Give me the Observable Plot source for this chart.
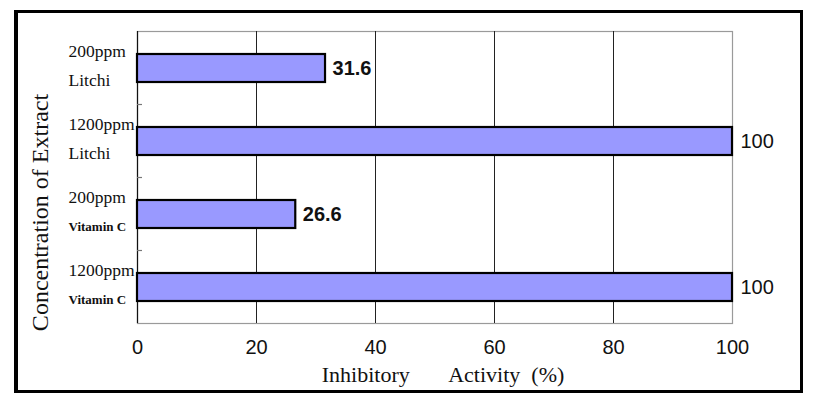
<!DOCTYPE html>
<html>
<head>
<meta charset="utf-8">
<script src="https://cdn.jsdelivr.net/npm/d3@7"></script>
<script src="https://cdn.jsdelivr.net/npm/@observablehq/plot@0.6"></script>
<style>
  html, body { margin: 0; padding: 0; background: #fff; }
  #wrap { position: relative; width: 819px; height: 412px; }
  #border { position: absolute; left: 14px; top: 10px; width: 782px; height: 377px; border: 3px solid #000; border-left-width: 4px; pointer-events: none; }
  svg { display: block; }
</style>
</head>
<body>
<div id="wrap"><div id="border"></div></div>
<script>
const concentrations = ["200ppm", "1200ppm", "200ppm", "1200ppm"];
const extracts = ["Litchi", "Litchi", "Vitamin C", "Vitamin C"];
const activity = [31.6, 100, 26.6, 100];
const valueLabels = ["31.6", "100", "26.6", "100"];
const xTicks = [0, 20, 40, 60, 80, 100];
const gridValues = [20, 40, 60, 80];
const xTitle = "Inhibitory\u00a0\u00a0\u00a0\u00a0\u00a0\u00a0\u00a0Activity\u00a0\u00a0(%)";
const yTitle = "Concentration of Extract";

const sans = "Liberation Sans, Arial, sans-serif";

const rows = concentrations.map((c, i) => ({
  key: c + " " + extracts[i],
  conc: c,
  extract: extracts[i],
  value: activity[i],
  label: valueLabels[i]
}));
const domain = rows.map(d => d.key);

const plot = Plot.plot({
  width: 819,
  height: 412,
  marginLeft: 137,
  marginRight: 87,
  marginTop: 31,
  marginBottom: 89,
  style: { background: "transparent", overflow: "visible" },
  x: { domain: [0, 100], ticks: xTicks },
  y: { domain, paddingInner: 0.62, paddingOuter: 0.31 },
  marks: [
    Plot.frame({ stroke: "#9a9a9a", strokeWidth: 1.2 }),
    Plot.ruleX(gridValues, { stroke: "#222", strokeWidth: 1 }),
    Plot.ruleX([0], { stroke: "#111", strokeWidth: 1.2 }),
    Plot.barX(rows, { x: "value", y: "key", fill: "#9999ff", stroke: "#000", strokeWidth: 2.2 }),
    Plot.text(rows.filter(d => d.value < 100), { x: "value", y: "key", text: "label", textAnchor: "start", dx: 7,
      fontFamily: sans, fontWeight: "bold", fontSize: 20, letterSpacing: 1, fill: "#111" }),
    Plot.text(rows.filter(d => d.value >= 100), { x: "value", y: "key", text: "label", textAnchor: "start", dx: 8,
      fontFamily: sans, fontSize: 20, fill: "#111" }),
    Plot.text(rows, { x: 0, y: "key", text: "conc", textAnchor: "start", dx: -69, dy: -17.5,
      fontFamily: "Liberation Serif", fontSize: 17.5, fill: "#111" }),
    Plot.text(rows.filter(d => d.extract === "Litchi"), { x: 0, y: "key", text: "extract", textAnchor: "start", dx: -69, dy: 12,
      fontFamily: "Liberation Serif", fontSize: 17.5, fill: "#111" }),
    Plot.text(rows.filter(d => d.extract !== "Litchi"), { x: 0, y: "key", text: "extract", textAnchor: "start", dx: -69, dy: 12,
      fontFamily: "Liberation Serif", fontWeight: "bold", fontSize: 13, fill: "#111" }),
    Plot.axisX({ ticks: xTicks, tickSize: 0, tickPadding: 16, label: null,
      fontFamily: sans, fontSize: 20, color: "#111" }),
    Plot.axisY({ ticks: [], label: null }),
    Plot.text([xTitle], { frameAnchor: "bottom", dx: 8, dy: 58,
      fontFamily: "Liberation Serif", fontSize: 22, letterSpacing: 0.6, fill: "#111" }),
    Plot.text([yTitle], { frameAnchor: "left", textAnchor: "middle", rotate: -90, dx: -97, dy: 35,
      fontFamily: "Liberation Serif", fontSize: 24, fill: "#111" })
  ]
});

// inside tick marks at the band boundaries, positioned from the y scale
const y = plot.scale("y");
const x = plot.scale("x");
const svg = d3.select(plot);
const step = y.step, bw = y.bandwidth;
domain.slice(0, -1).forEach(k => {
  const yy = y.apply(k) + bw + (step - bw) / 2;
  svg.append("line")
    .attr("x1", x.apply(0)).attr("x2", x.apply(0) + 5)
    .attr("y1", yy).attr("y2", yy)
    .attr("stroke", "#777").attr("stroke-width", 1.2);
});

document.getElementById("wrap").prepend(plot);
</script>
</body>
</html>
